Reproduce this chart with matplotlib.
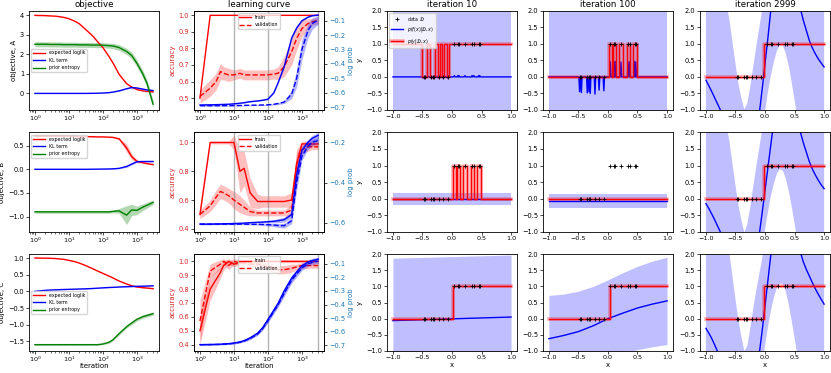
import numpy as np
import matplotlib.pyplot as plt
import matplotlib.patheffects as pe

# iterations at which the curves were logged
ITERS = [1, 2, 3, 4, 5, 7, 10, 15, 20, 30, 50, 70, 100, 150, 200, 300, 500, 700, 1000, 1500, 2000, 2999]
SNAPSHOTS = [10, 100, 2999]

# ---- objective terms (mean, band half width) ----
LL_A = [4.0, 3.99, 3.97, 3.96, 3.94, 3.9, 3.83, 3.7, 3.58, 3.3, 2.95, 2.65, 2.35, 1.9, 1.55, 0.98, 0.5, 0.33, 0.2, 0.13, 0.1, 0.08]
LL_A_SD = [0.01, 0.01, 0.01, 0.01, 0.01, 0.01, 0.01, 0.01, 0.01, 0.01, 0.02, 0.02, 0.02, 0.03, 0.03, 0.03, 0.03, 0.02, 0.02, 0.01, 0.01, 0.01]
KL_A = [0.0, 0.0, 0.0, 0.0, 0.0, 0.0, 0.0, 0.0, 0.0, 0.0, 0.005, 0.01, 0.02, 0.04, 0.07, 0.13, 0.24, 0.3, 0.28, 0.22, 0.18, 0.15]
KL_A_SD = [0.005, 0.005, 0.005, 0.005, 0.005, 0.005, 0.005, 0.005, 0.005, 0.005, 0.005, 0.005, 0.01, 0.01, 0.01, 0.02, 0.02, 0.02, 0.02, 0.02, 0.02, 0.02]
ENT_A = [2.52, 2.52, 2.51, 2.51, 2.51, 2.5, 2.5, 2.5, 2.49, 2.49, 2.48, 2.48, 2.47, 2.45, 2.43, 2.35, 2.15, 1.95, 1.55, 1.0, 0.5, -0.55]
ENT_A_SD = [0.13, 0.13, 0.13, 0.13, 0.13, 0.13, 0.13, 0.13, 0.13, 0.13, 0.13, 0.13, 0.13, 0.13, 0.14, 0.15, 0.16, 0.17, 0.18, 0.18, 0.19, 0.2]

LL_B = [0.7, 0.7, 0.7, 0.7, 0.7, 0.7, 0.7, 0.695, 0.69, 0.69, 0.69, 0.685, 0.685, 0.68, 0.675, 0.645, 0.45, 0.27, 0.17, 0.14, 0.12, 0.1]
LL_B_SD = [0.005, 0.005, 0.005, 0.005, 0.005, 0.005, 0.005, 0.005, 0.005, 0.005, 0.005, 0.005, 0.005, 0.008, 0.01, 0.02, 0.08, 0.06, 0.03, 0.015, 0.01, 0.01]
KL_B = [0.0, 0.0, 0.0, 0.0, 0.0, 0.0, 0.0, 0.0, 0.0, 0.0, 0.002, 0.003, 0.005, 0.007, 0.01, 0.02, 0.06, 0.11, 0.16, 0.165, 0.165, 0.165]
KL_B_SD = [0.003, 0.003, 0.003, 0.003, 0.003, 0.003, 0.003, 0.003, 0.003, 0.003, 0.003, 0.003, 0.004, 0.005, 0.005, 0.008, 0.02, 0.02, 0.015, 0.01, 0.01, 0.01]
ENT_B = [-0.9, -0.9, -0.9, -0.9, -0.9, -0.9, -0.9, -0.9, -0.9, -0.9, -0.9, -0.9, -0.9, -0.9, -0.89, -0.88, -0.97, -0.86, -0.87, -0.8, -0.76, -0.7]
ENT_B_SD = [0.03, 0.03, 0.03, 0.03, 0.03, 0.03, 0.03, 0.03, 0.03, 0.03, 0.03, 0.03, 0.03, 0.03, 0.03, 0.05, 0.2, 0.12, 0.09, 0.07, 0.06, 0.05]

LL_C = [1.0, 0.995, 0.99, 0.985, 0.975, 0.96, 0.93, 0.89, 0.85, 0.78, 0.68, 0.61, 0.54, 0.46, 0.4, 0.31, 0.22, 0.17, 0.13, 0.11, 0.1, 0.08]
LL_C_SD = [0.005, 0.005, 0.005, 0.005, 0.005, 0.005, 0.005, 0.005, 0.005, 0.005, 0.008, 0.01, 0.01, 0.01, 0.01, 0.01, 0.01, 0.01, 0.01, 0.01, 0.01, 0.01]
KL_C = [0.0, 0.03, 0.04, 0.045, 0.05, 0.055, 0.06, 0.065, 0.07, 0.075, 0.085, 0.095, 0.105, 0.115, 0.12, 0.13, 0.14, 0.145, 0.15, 0.155, 0.16, 0.165]
KL_C_SD = [0.005, 0.005, 0.005, 0.005, 0.005, 0.005, 0.005, 0.005, 0.005, 0.005, 0.005, 0.005, 0.005, 0.005, 0.005, 0.006, 0.007, 0.008, 0.008, 0.008, 0.008, 0.008]
ENT_C = [-1.6, -1.6, -1.6, -1.6, -1.6, -1.6, -1.6, -1.6, -1.6, -1.6, -1.6, -1.6, -1.58, -1.53, -1.45, -1.27, -1.06, -0.95, -0.84, -0.76, -0.72, -0.67]
ENT_C_SD = [0.02, 0.02, 0.02, 0.02, 0.02, 0.02, 0.02, 0.02, 0.02, 0.02, 0.02, 0.02, 0.02, 0.03, 0.03, 0.04, 0.04, 0.05, 0.05, 0.05, 0.05, 0.05]

# ---- learning curves: accuracy (left axis) and log prob (right axis) ----
TR_A = [0.5, 1.0, 1.0, 1.0, 1.0, 1.0, 1.0, 1.0, 1.0, 1.0, 1.0, 1.0, 1.0, 1.0, 1.0, 1.0, 1.0, 1.0, 1.0, 1.0, 1.0, 1.0]
TR_A_SD = [0.0, 0.0, 0.0, 0.0, 0.0, 0.0, 0.0, 0.0, 0.0, 0.0, 0.0, 0.0, 0.0, 0.0, 0.0, 0.0, 0.0, 0.0, 0.0, 0.0, 0.0, 0.0]
VA_A = [0.51, 0.56, 0.6, 0.66, 0.65, 0.64, 0.64, 0.65, 0.64, 0.64, 0.64, 0.64, 0.64, 0.645, 0.65, 0.69, 0.78, 0.86, 0.92, 0.95, 0.96, 0.97]
VA_A_SD = [0.04, 0.05, 0.05, 0.05, 0.04, 0.04, 0.03, 0.03, 0.03, 0.03, 0.03, 0.03, 0.03, 0.03, 0.04, 0.06, 0.08, 0.07, 0.05, 0.03, 0.02, 0.02]
LPT_A = [-0.685, -0.684, -0.683, -0.682, -0.681, -0.68, -0.677, -0.673, -0.669, -0.662, -0.657, -0.652, -0.645, -0.6, -0.53, -0.42, -0.22, -0.15, -0.1, -0.075, -0.065, -0.06]
LPT_A_SD = [0.003, 0.003, 0.003, 0.003, 0.003, 0.003, 0.003, 0.003, 0.003, 0.003, 0.003, 0.003, 0.004, 0.005, 0.006, 0.008, 0.008, 0.006, 0.005, 0.004, 0.004, 0.004]
LPV_A = [-0.69, -0.69, -0.69, -0.69, -0.69, -0.69, -0.689, -0.689, -0.688, -0.687, -0.686, -0.685, -0.684, -0.68, -0.675, -0.665, -0.61, -0.5, -0.3, -0.17, -0.12, -0.095]
LPV_A_SD = [0.003, 0.003, 0.003, 0.003, 0.003, 0.003, 0.003, 0.003, 0.003, 0.003, 0.003, 0.003, 0.004, 0.005, 0.007, 0.01, 0.03, 0.06, 0.07, 0.05, 0.04, 0.03]

TR_B = [0.5, 1.0, 1.0, 1.0, 1.0, 1.0, 1.0, 0.8, 0.82, 0.65, 0.59, 0.59, 0.59, 0.59, 0.59, 0.59, 0.6, 0.85, 0.99, 0.99, 0.99, 0.99]
TR_B_SD = [0.02, 0.01, 0.01, 0.01, 0.01, 0.01, 0.05, 0.15, 0.12, 0.1, 0.05, 0.04, 0.04, 0.04, 0.04, 0.04, 0.05, 0.1, 0.02, 0.02, 0.02, 0.02]
VA_B = [0.5, 0.56, 0.62, 0.66, 0.65, 0.63, 0.6, 0.57, 0.55, 0.52, 0.51, 0.51, 0.51, 0.51, 0.51, 0.51, 0.53, 0.85, 0.95, 0.97, 0.97, 0.97]
VA_B_SD = [0.03, 0.04, 0.05, 0.05, 0.05, 0.05, 0.06, 0.06, 0.05, 0.03, 0.02, 0.02, 0.02, 0.02, 0.02, 0.02, 0.04, 0.08, 0.03, 0.03, 0.02, 0.02]
LPT_B = [-0.607, -0.607, -0.606, -0.606, -0.605, -0.605, -0.604, -0.603, -0.602, -0.6, -0.598, -0.597, -0.595, -0.593, -0.59, -0.585, -0.56, -0.36, -0.24, -0.2, -0.18, -0.165]
LPT_B_SD = [0.003, 0.003, 0.003, 0.003, 0.003, 0.003, 0.003, 0.003, 0.003, 0.003, 0.004, 0.005, 0.006, 0.008, 0.01, 0.012, 0.015, 0.04, 0.02, 0.015, 0.015, 0.015]
LPV_B = [-0.607, -0.607, -0.607, -0.607, -0.607, -0.607, -0.607, -0.607, -0.607, -0.608, -0.608, -0.609, -0.61, -0.612, -0.614, -0.615, -0.59, -0.4, -0.27, -0.22, -0.2, -0.19]
LPV_B_SD = [0.003, 0.003, 0.003, 0.003, 0.003, 0.003, 0.003, 0.003, 0.003, 0.003, 0.004, 0.005, 0.006, 0.008, 0.01, 0.012, 0.015, 0.04, 0.02, 0.015, 0.015, 0.015]

TR_C = [0.5, 0.8, 0.87, 0.92, 0.97, 1.0, 0.98, 0.99, 1.0, 1.0, 1.0, 1.0, 1.0, 1.0, 1.0, 1.0, 1.0, 1.0, 1.0, 1.0, 1.0, 1.0]
TR_C_SD = [0.1, 0.08, 0.06, 0.04, 0.03, 0.02, 0.02, 0.01, 0.01, 0.01, 0.01, 0.01, 0.01, 0.01, 0.01, 0.01, 0.01, 0.01, 0.01, 0.01, 0.01, 0.01]
VA_C = [0.57, 0.93, 0.96, 0.98, 1.0, 0.97, 1.0, 0.99, 0.99, 0.98, 0.98, 0.97, 0.96, 0.95, 0.94, 0.94, 0.95, 0.96, 0.97, 0.97, 0.97, 0.97]
VA_C_SD = [0.15, 0.05, 0.04, 0.03, 0.02, 0.03, 0.02, 0.02, 0.02, 0.02, 0.02, 0.02, 0.03, 0.03, 0.03, 0.03, 0.03, 0.02, 0.02, 0.02, 0.02, 0.02]
LPT_C = [-0.695, -0.694, -0.693, -0.692, -0.69, -0.688, -0.683, -0.675, -0.665, -0.645, -0.61, -0.57, -0.51, -0.44, -0.39, -0.3, -0.205, -0.16, -0.115, -0.088, -0.076, -0.066]
LPT_C_SD = [0.004, 0.004, 0.004, 0.004, 0.004, 0.004, 0.004, 0.005, 0.006, 0.008, 0.01, 0.012, 0.014, 0.016, 0.018, 0.02, 0.02, 0.02, 0.018, 0.016, 0.015, 0.015]
LPV_C = [-0.696, -0.695, -0.694, -0.693, -0.692, -0.69, -0.686, -0.678, -0.669, -0.65, -0.616, -0.577, -0.52, -0.45, -0.4, -0.32, -0.22, -0.175, -0.13, -0.1, -0.09, -0.08]
LPV_C_SD = [0.004, 0.004, 0.004, 0.004, 0.004, 0.004, 0.004, 0.005, 0.006, 0.008, 0.01, 0.012, 0.014, 0.016, 0.018, 0.02, 0.022, 0.022, 0.02, 0.018, 0.017, 0.016]

# ---- regression snapshots in x-space ----
DATA_X = [-0.48, -0.45, -0.35, -0.32, -0.30, -0.22, -0.15, -0.07, 0.04, 0.10, 0.12, 0.22, 0.34, 0.37, 0.45, 0.47]
DATA_Y = [0, 0, 0, 0, 0, 0, 0, 0, 1, 1, 1, 1, 1, 1, 1, 1]

# posterior mean spike heights at each data point (row A, early iterations)
SPIKE_A10 = [-0.04, -0.04, -0.04, -0.04, -0.04, -0.04, -0.04, -0.04, 0.04, 0.04, 0.04, 0.04, 0.04, 0.04, 0.04, 0.04]
SPIKE_A100 = [-0.45, -0.47, -0.48, -0.45, -0.5, -0.52, -0.4, -0.42, 0.45, 0.45, 0.47, 0.45, 0.47, 0.45, 0.47, 0.45]

# p(y|D,x) as step functions: breakpoints and values
PY_A10_X = [-1.0, -0.50, -0.43, -0.37, -0.28, -0.24, -0.20, -0.17, -0.13, -0.09, -0.05, 1.0]
PY_A10_Y = [1, 0, 1, 0, 1, 0, 1, 0, 1, 0, 1, 1]
PY_PULSE_X = [-1.0, 0.02, 0.07, 0.09, 0.14, 0.19, 0.25, 0.32, 0.38, 0.43, 0.49, 1.0]
PY_PULSE_Y = [0, 1, 0, 1, 0, 1, 0, 1, 0, 1, 0, 0]
PY_FLAT_X = [-1.0, 1.0]
PY_FLAT_Y = [0, 0]
PY_STEP_A2999_X = [-1.0, -0.01, 1.0]
PY_STEP_B2999_X = [-1.0, -0.02, 1.0]
PY_STEP_C10_X = [-1.0, 0.02, 1.0]
PY_STEP_C100_X = [-1.0, 0.04, 1.0]
PY_STEP_C2999_X = [-1.0, -0.02, 1.0]
PY_STEP_Y = [0, 1, 1]

# simple bands: x, mean, lower, upper
EDGE_X = [-1.0, 1.0]
LO_WIDE = [-3.0, -3.0]
HI_WIDE = [3.0, 3.0]
M_B10 = [-0.01, -0.01]
LO_B10 = [-0.2, -0.2]
HI_B10 = [0.17, 0.17]
M_B100 = [-0.07, -0.07]
LO_B100 = [-0.28, -0.28]
HI_B100 = [0.13, 0.13]
M_C10 = [-0.06, 0.05]
LO_C10 = [-4.0, -3.8]
HI_C10 = [1.87, 1.97]

C100_X = [-1.0, -0.75, -0.5, -0.25, 0.0, 0.25, 0.5, 0.75, 1.0]
M_C100 = [-0.62, -0.52, -0.4, -0.22, 0.0, 0.17, 0.33, 0.45, 0.55]
LO_C100 = [-1.95, -1.85, -1.67, -1.45, -1.2, -1.07, -0.96, -0.87, -0.8]
HI_C100 = [0.72, 0.76, 0.85, 1.0, 1.2, 1.42, 1.62, 1.78, 1.9]

# iteration 2999: posterior on a grid of x
GRID_X = np.linspace(-1.0, 1.0, 41)
M_A2999 = [-0.10, -0.27, -0.45, -0.64, -0.83, -1.02, -1.30, -1.60, -1.85, -2.10,
           -2.30, -2.45, -2.55, -2.60, -2.55, -2.40, -2.15, -1.75, -1.15, -0.40,
           0.40, 1.20, 2.05, 2.80, 3.40, 3.80, 4.00, 3.95, 3.70, 3.30,
           2.85, 2.40, 2.05, 1.70, 1.40, 1.10, 0.88, 0.70, 0.55, 0.42, 0.30]
HI_A2999 = [6.0, 5.2, 4.5, 3.8, 3.2, 2.7, 2.35, 2.2, 1.7, 1.05,
            0.4, -0.2, -0.65, -0.98, -0.8, -0.3, 0.3, 0.9, 1.45, 2.0,
            2.7, 3.5, 4.4, 5.2, 5.8, 6.3, 6.6, 6.6, 6.4, 6.0,
            5.6, 5.3, 5.1, 5.0, 5.0, 5.1, 5.3, 5.6, 6.0, 6.5, 7.0]
LO_A2999 = [-6.2, -5.8, -5.4, -5.1, -4.9, -4.8, -4.9, -5.1, -5.3, -5.4,
            -5.3, -5.0, -4.6, -4.2, -3.8, -3.4, -3.0, -2.6, -2.2, -1.7,
            -1.05, -0.45, 0.05, 0.45, 0.78, 0.97, 0.95, 0.72, 0.35, -0.15,
            -0.7, -1.25, -1.9, -2.5, -3.0, -3.4, -3.8, -4.1, -4.4, -4.7, -5.0]
M_B2999 = [-0.15, -0.30, -0.47, -0.65, -0.84, -1.03, -1.30, -1.58, -1.83, -2.05,
           -2.22, -2.35, -2.42, -2.44, -2.38, -2.22, -1.98, -1.62, -1.12, -0.45,
           0.25, 0.95, 1.65, 2.35, 2.95, 3.40, 3.65, 3.65, 3.45, 3.10,
           2.70, 2.32, 2.00, 1.68, 1.40, 1.12, 0.90, 0.72, 0.56, 0.42, 0.30]
HI_B2999 = [6.0, 5.2, 4.5, 3.8, 3.2, 2.7, 2.35, 2.2, 1.7, 1.05,
            0.4, -0.2, -0.65, -1.02, -0.78, -0.25, 0.35, 0.95, 1.5, 2.05,
            2.7, 3.4, 4.2, 5.0, 5.6, 6.0, 6.3, 6.3, 6.1, 5.8,
            5.4, 5.1, 4.9, 4.8, 4.8, 4.9, 5.1, 5.4, 5.8, 6.3, 6.8]
LO_B2999 = [-6.2, -5.8, -5.4, -5.1, -4.9, -4.8, -4.9, -5.1, -5.3, -5.4,
            -5.3, -5.0, -4.6, -4.2, -3.8, -3.4, -3.0, -2.6, -2.2, -1.6,
            -0.95, -0.4, 0.08, 0.45, 0.75, 0.89, 0.85, 0.62, 0.25, -0.22,
            -0.75, -1.3, -1.9, -2.5, -3.0, -3.4, -3.8, -4.1, -4.4, -4.7, -5.0]
M_C2999 = [-0.30, -0.45, -0.62, -0.82, -1.03, -1.25, -1.48, -1.70, -1.90, -2.08,
           -2.22, -2.32, -2.38, -2.38, -2.32, -2.18, -1.95, -1.60, -1.12, -0.40,
           0.40, 1.20, 2.00, 2.75, 3.35, 3.75, 3.95, 3.95, 3.75, 3.40,
           2.95, 2.45, 2.05, 1.75, 1.52, 1.32, 1.12, 0.93, 0.76, 0.60, 0.45]
HI_C2999 = [6.0, 5.3, 4.6, 3.9, 3.3, 2.8, 2.45, 2.25, 2.0, 1.3,
            0.6, -0.05, -0.55, -1.0, -0.85, -0.3, 0.3, 0.85, 1.35, 1.85,
            2.45, 3.2, 4.0, 4.8, 5.4, 5.9, 6.2, 6.3, 6.1, 5.8,
            5.4, 5.0, 4.7, 4.5, 4.4, 4.4, 4.5, 4.7, 5.0, 5.4, 5.8]
LO_C2999 = [-6.5, -6.0, -5.6, -5.3, -5.1, -5.0, -5.0, -5.1, -5.3, -5.4,
            -5.3, -5.0, -4.6, -4.2, -3.8, -3.4, -3.0, -2.6, -2.1, -1.45,
            -0.85, -0.25, 0.25, 0.65, 0.95, 1.08, 1.08, 0.85, 0.45, -0.05,
            -0.6, -1.15, -1.8, -2.4, -2.9, -3.3, -3.6, -3.9, -4.2, -4.5, -4.8]


plt.rcParams.update({
    "font.size": 5,
    "axes.titlesize": 6.2,
    "axes.labelsize": 5,
    "xtick.labelsize": 4.6,
    "ytick.labelsize": 4.8,
    "legend.fontsize": 3.4,
    "axes.linewidth": 0.6,
    "xtick.major.size": 2, "ytick.major.size": 2,
    "xtick.minor.size": 1.2, "ytick.minor.size": 1.2,
    "xtick.major.width": 0.5, "ytick.major.width": 0.5,
    "xtick.minor.width": 0.4, "ytick.minor.width": 0.4,
    "xtick.major.pad": 1.0, "ytick.major.pad": 1.5,
    "axes.labelpad": 2, "axes.titlepad": 2.5,
    "legend.handlelength": 2.5, "legend.borderpad": 0.4,
})


def spiky(heights):
    pts = sorted(zip(DATA_X, heights))
    xs, ys = [-1.0], [0.0]
    for x, h in pts:
        xs += [x - 0.012, x, x + 0.012]
        ys += [0.0, h, 0.0]
    xs.append(1.0)
    ys.append(0.0)
    return xs, ys


def draw_objective(ax, series, ylim, yticks, loc, row):
    names = ["expected loglik", "KL term", "prior entropy"]
    for (m, s), color, name in zip(series, ["red", "blue", "green"], names):
        m, s = np.asarray(m), np.asarray(s)
        ax.fill_between(ITERS, m - s, m + s, color=color, alpha=0.3, lw=0)
        ax.plot(ITERS, m, color=color, lw=1, label=name)
    ax.set_xscale("log")
    ax.set_ylim(ylim)
    ax.set_yticks(yticks)
    ax.set_ylabel("objective, " + row)
    ax.legend(loc=loc)


def draw_learning(ax, acc, lp, ylim, yticks, ylim2, yticks2):
    (tr, tr_sd), (va, va_sd) = acc
    for it in SNAPSHOTS:
        ax.axvline(it, color="gray", alpha=0.6, lw=1)
    for (m, s), ls, name in [((tr, tr_sd), "-", "train"), ((va, va_sd), "--", "validation")]:
        m, s = np.asarray(m), np.asarray(s)
        ax.fill_between(ITERS, m - s, m + s, color="red", alpha=0.25, lw=0)
        ax.plot(ITERS, m, color="red", ls=ls, lw=1, label=name)
    ax.set_xscale("log")
    ax.set_ylim(ylim)
    ax.set_yticks(yticks)
    ax.set_ylabel("accuracy", color="tab:red")
    ax.tick_params(axis="y", labelcolor="tab:red")
    ax.legend(loc="upper center")

    ax2 = ax.twinx()
    for (m, s), ls in zip(lp, ["-", "--"]):
        m, s = np.asarray(m), np.asarray(s)
        ax2.fill_between(ITERS, m - s, m + s, color="blue", alpha=0.3, lw=0)
        ax2.plot(ITERS, m, color="blue", ls=ls, lw=1)
    ax2.set_ylim(ylim2)
    ax2.set_yticks(yticks2)
    ax2.set_ylabel("log prob", color="tab:blue")
    ax2.tick_params(axis="y", labelcolor="tab:blue")
    ax2.set_xlim(ax.get_xlim())


def draw_xspace(ax, band_x, lo, hi, mean_x, mean, py_x, py_y):
    ax.fill_between(band_x, lo, hi, color="blue", alpha=0.25, lw=0)
    hf, = ax.plot(mean_x, mean, color="blue", lw=1)
    hy, = ax.plot(py_x, py_y, color="red", lw=1, drawstyle="steps-post",
                  path_effects=[pe.Stroke(linewidth=2.6, foreground="red", alpha=0.3), pe.Normal()])
    hd, = ax.plot(DATA_X, DATA_Y, "k+", ms=3.5, mew=0.6, zorder=5)
    ax.set_ylim(-1, 2)
    ax.set_xticks([-1.0, -0.5, 0.0, 0.5, 1.0])
    ax.set_yticks([-1.0, -0.5, 0.0, 0.5, 1.0, 1.5, 2.0])
    return hd, hf, hy


fig = plt.figure(figsize=(8.31, 3.73), dpi=100)

ROW_B = [0.7051, 0.3788, 0.059]
ROW_H = [0.2662, 0.2662, 0.2600]
COL_L = [0.0349, 0.2335, 0.4657, 0.6534, 0.8424]
W = 0.1564
axes = [[fig.add_axes([COL_L[c], ROW_B[r], W, ROW_H[r]]) for c in range(5)] for r in range(3)]

# objective column
draw_objective(axes[0][0], [(LL_A, LL_A_SD), (KL_A, KL_A_SD), (ENT_A, ENT_A_SD)],
               (-0.85, 4.24), [0, 1, 2, 3, 4], "center left", "A")
draw_objective(axes[1][0], [(LL_B, LL_B_SD), (KL_B, KL_B_SD), (ENT_B, ENT_B_SD)],
               (-1.32, 0.78), [-1.0, -0.5, 0.0, 0.5], "upper left", "B")
draw_objective(axes[2][0], [(LL_C, LL_C_SD), (KL_C, KL_C_SD), (ENT_C, ENT_C_SD)],
               (-1.79, 1.12), [-1.5, -1.0, -0.5, 0.0, 0.5, 1.0], "center left", "C")

# learning curve column
draw_learning(axes[0][1], [(TR_A, TR_A_SD), (VA_A, VA_A_SD)], [(LPT_A, LPT_A_SD), (LPV_A, LPV_A_SD)],
              (0.428, 1.028), [0.5, 0.6, 0.7, 0.8, 0.9, 1.0],
              (-0.72, -0.03), [-0.7, -0.6, -0.5, -0.4, -0.3, -0.2, -0.1])
draw_learning(axes[1][1], [(TR_B, TR_B_SD), (VA_B, VA_B_SD)], [(LPT_B, LPT_B_SD), (LPV_B, LPV_B_SD)],
              (0.38, 1.07), [0.4, 0.6, 0.8, 1.0],
              (-0.645, -0.15), [-0.6, -0.4, -0.2])
draw_learning(axes[2][1], [(TR_C, TR_C_SD), (VA_C, VA_C_SD)], [(LPT_C, LPT_C_SD), (LPV_C, LPV_C_SD)],
              (0.354, 1.053), [0.4, 0.5, 0.6, 0.7, 0.8, 0.9, 1.0],
              (-0.742, -0.028), [-0.7, -0.6, -0.5, -0.4, -0.3, -0.2, -0.1])

# x-space snapshots
sx, sy = spiky(SPIKE_A10)
handles = draw_xspace(axes[0][2], EDGE_X, LO_WIDE, HI_WIDE, sx, sy, PY_A10_X, PY_A10_Y)
sx, sy = spiky(SPIKE_A100)
draw_xspace(axes[0][3], EDGE_X, LO_WIDE, HI_WIDE, sx, sy, PY_PULSE_X, PY_PULSE_Y)
draw_xspace(axes[0][4], GRID_X, LO_A2999, HI_A2999, GRID_X, M_A2999, PY_STEP_A2999_X, PY_STEP_Y)

draw_xspace(axes[1][2], EDGE_X, LO_B10, HI_B10, EDGE_X, M_B10, PY_PULSE_X, PY_PULSE_Y)
draw_xspace(axes[1][3], EDGE_X, LO_B100, HI_B100, EDGE_X, M_B100, PY_FLAT_X, PY_FLAT_Y)
draw_xspace(axes[1][4], GRID_X, LO_B2999, HI_B2999, GRID_X, M_B2999, PY_STEP_B2999_X, PY_STEP_Y)

draw_xspace(axes[2][2], EDGE_X, LO_C10, HI_C10, EDGE_X, M_C10, PY_STEP_C10_X, PY_STEP_Y)
draw_xspace(axes[2][3], C100_X, LO_C100, HI_C100, C100_X, M_C100, PY_STEP_C100_X, PY_STEP_Y)
draw_xspace(axes[2][4], GRID_X, LO_C2999, HI_C2999, GRID_X, M_C2999, PY_STEP_C2999_X, PY_STEP_Y)

axes[0][2].legend(handles, [r"data $\mathcal{D}$", r"$p(f(x)|\mathcal{D},x)$", r"$p(y|\mathcal{D},x)$"],
                  loc="upper left")

for r in range(3):
    axes[r][2].set_ylabel("y")

axes[0][0].set_title("objective")
axes[0][1].set_title("learning curve")
for c, it in zip(range(2, 5), SNAPSHOTS):
    axes[0][c].set_title("iteration %d" % it)

for c in range(2):
    axes[2][c].set_xlabel("iteration")
    axes[2][c].xaxis.set_label_coords(0.5, -0.125)
for c in range(2, 5):
    axes[2][c].set_xlabel("x")
    axes[2][c].xaxis.set_label_coords(0.5, -0.11)

fig.savefig("out.png", dpi=100)
